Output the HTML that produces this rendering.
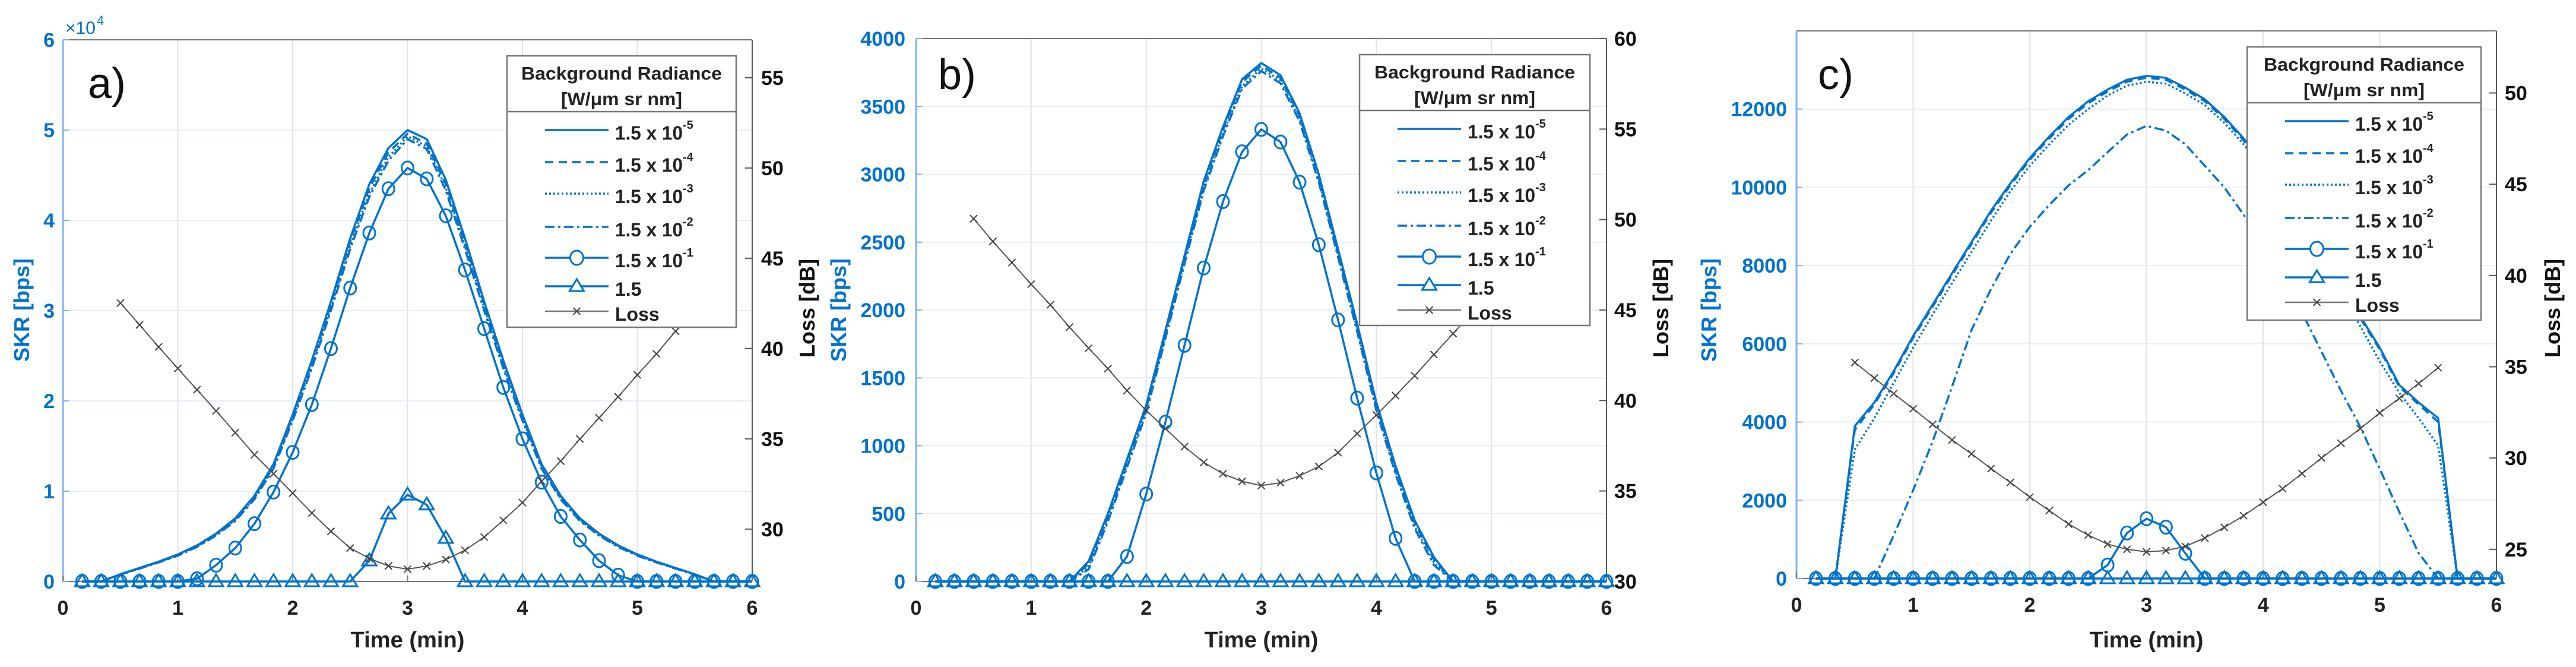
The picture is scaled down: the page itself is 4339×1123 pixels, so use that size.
<!DOCTYPE html>
<html><head><meta charset="utf-8">
<style>
html,body{margin:0;padding:0;background:#fff;}
svg{display:block;font-family:"Liberation Sans",Arial,sans-serif;}
</style></head>
<body>
<svg id="fig" width="4339" height="1123" viewBox="0 0 4339 1123" xmlns="http://www.w3.org/2000/svg"></svg>
<script>
// ---- Data ----
const times = [0.167,0.333,0.5,0.667,0.833,1,1.167,1.333,1.5,1.667,1.833,2,2.167,2.333,2.5,2.667,2.833,3,3.167,3.333,3.5,3.667,3.833,4,4.167,4.333,4.5,4.667,4.833,5,5.167,5.333,5.5,5.667,5.833,6];
const lossTimes = [0.5,0.667,0.833,1,1.167,1.333,1.5,1.667,1.833,2,2.167,2.333,2.5,2.667,2.833,3,3.167,3.333,3.5,3.667,3.833,4,4.167,4.333,4.5,4.667,4.833,5,5.167,5.333,5.5];
const legendLabels = ["1.5 x 10|-5","1.5 x 10|-4","1.5 x 10|-3","1.5 x 10|-2","1.5 x 10|-1","1.5","Loss"];

const aS5 = [0,0,800,1500,2200,3000,4000,5300,7000,9500,13000,18500,24500,31000,38000,44000,48000,50000,49000,44500,38000,31000,24500,18500,13000,9500,7000,5300,4000,3000,2200,1500,800,0,0,0];
const aS4 = [0,0,790,1480,2170,2960,3950,5230,6920,9400,12850,18300,24250,30700,37600,43550,47500,49600,48500,44000,37600,30700,24250,18300,12850,9400,6920,5230,3950,2960,2170,1480,790,0,0,0];
const aS3 = [0,0,770,1450,2130,2900,3880,5150,6800,9250,12650,18000,23900,30300,37200,43000,47000,49300,48200,43600,37200,30300,23900,18000,12650,9250,6800,5150,3880,2900,2130,1450,770,0,0,0];
const aS2 = [0,0,750,1420,2100,2850,3820,5080,6700,9100,12500,17800,23600,30000,36800,42600,46600,49000,47900,43300,36800,30000,23600,17800,12500,9100,6700,5080,3820,2850,2100,1420,750,0,0,0];
const aS1 = [0,0,0,0,0,0,300,1800,3700,6400,9900,14300,19600,25800,32500,38600,43500,45800,44600,40500,34500,28000,21500,15800,11000,7200,4600,2300,700,0,0,0,0,0,0,0];
const aS0 = [0,0,0,0,0,0,0,0,0,0,0,0,0,0,0,2300,7500,9600,8500,4800,0,0,0,0,0,0,0,0,0,0,0,0,0,0,0,0];
const aLoss = [42.52,41.31,40.09,38.90,37.72,36.55,35.34,34.12,33.07,31.99,30.89,29.88,28.95,28.38,27.96,27.78,27.96,28.31,28.83,29.56,30.49,31.47,32.65,33.77,34.99,36.16,37.33,38.54,39.71,40.96,42.0];

const bS5 = [0,0,0,0,0,0,0,0,150,500,900,1300,1850,2400,2950,3350,3700,3820,3730,3450,3000,2450,1900,1320,850,450,180,0,0,0,0,0,0,0,0,0];
const bS4 = [0,0,0,0,0,0,0,0,130,480,880,1280,1830,2380,2930,3330,3680,3800,3710,3430,2980,2430,1880,1300,830,430,160,0,0,0,0,0,0,0,0,0];
const bS3 = [0,0,0,0,0,0,0,0,110,460,860,1260,1810,2360,2900,3300,3650,3780,3690,3410,2960,2410,1860,1280,810,410,140,0,0,0,0,0,0,0,0,0];
const bS2 = [0,0,0,0,0,0,0,0,90,440,840,1240,1790,2340,2880,3280,3630,3760,3670,3390,2940,2390,1840,1260,790,390,120,0,0,0,0,0,0,0,0,0];
const bS1 = [0,0,0,0,0,0,0,0,0,0,184,644,1174,1740,2310,2799,3166,3331,3238,2942,2481,1927,1351,800,318,0,0,0,0,0,0,0,0,0,0,0];
const bS0 = [0,0,0,0,0,0,0,0,0,0,0,0,0,0,0,0,0,0,0,0,0,0,0,0,0,0,0,0,0,0,0,0,0,0,0,0];
const bLoss = [50.05,48.79,47.62,46.43,45.29,44.05,42.89,41.76,40.55,39.45,38.45,37.45,36.58,35.95,35.53,35.30,35.46,35.84,36.35,37.12,38.17,39.20,40.27,41.37,42.54,43.70,44.87,46.04,47.2,48.4,49.5];

const cS5 = [0,0,3900,4500,5300,6200,7000,7800,8600,9400,10100,10750,11300,11800,12200,12500,12750,12850,12800,12550,12250,11800,11250,10600,9900,9100,8300,7500,6700,5900,4950,4500,4100,0,0,0];
const cS4 = [0,0,3800,4450,5250,6150,6950,7750,8550,9350,10050,10700,11250,11750,12150,12450,12700,12800,12750,12500,12200,11750,11200,10550,9850,9050,8250,7450,6650,5850,4900,4450,4000,0,0,0];
const cS3 = [0,0,3300,4100,5000,5900,6750,7550,8350,9150,9900,10550,11100,11600,12000,12350,12600,12700,12650,12400,12100,11650,11100,10450,9750,8950,8150,7350,6450,5550,4750,4100,3400,0,0,0];
const cS2 = [0,0,0,0,1100,2260,3500,4900,6350,7400,8300,8990,9550,10050,10440,10900,11350,11570,11450,11100,10550,10000,9300,8500,7700,6800,5800,4800,3875,2800,1700,650,0,0,0,0];
const cS1 = [0,0,0,0,0,0,0,0,0,0,0,0,0,0,0,344,1163,1528,1313,646,0,0,0,0,0,0,0,0,0,0,0,0,0,0,0,0];
const cS0 = [0,0,0,0,0,0,0,0,0,0,0,0,0,0,0,0,0,0,0,0,0,0,0,0,0,0,0,0,0,0,0,0,0,0,0,0];
const cLoss = [35.23,34.38,33.53,32.70,31.84,30.99,30.23,29.42,28.66,27.86,27.12,26.38,25.78,25.28,25.0,24.86,24.93,25.16,25.62,26.2,26.84,27.58,28.32,29.15,30.0,30.81,31.61,32.47,33.27,34.08,34.95];

const xTicks = [0,1,2,3,4,5,6];
const aLeftTicks = [0,10000,20000,30000,40000,50000,60000];
const aLeftTickLabels = ["0","1","2","3","4","5","6"];
const aRightTicks = [30,35,40,45,50,55];
const bLeftTicks = [0,500,1000,1500,2000,2500,3000,3500,4000];
const bRightTicks = [30,35,40,45,50,55,60];
const cLeftTicks = [0,2000,4000,6000,8000,10000,12000];
const cRightTicks = [25,30,35,40,45,50];

// ---- Layout ----
const BLUE = "#0072CE";
const NS = "http://www.w3.org/2000/svg";
const svg = document.getElementById("fig");
function mk(parent, tag, attrs, text){
  const e = document.createElementNS(NS, tag);
  for (const k in attrs) e.setAttribute(k, attrs[k]);
  if (text !== undefined) e.textContent = text;
  parent.appendChild(e);
  return e;
}
const panels = [
  {id:"a", L:106, R:1267, T:67, B:979, yl:[0,60000], yr:[27.1,57.1], lt:aLeftTicks, ltl:aLeftTickLabels, rt:aRightTicks,
   s:[aS5,aS4,aS3,aS2,aS1,aS0], loss:aLoss, leg:{x:854,y:94,w:386,h:457,div:188},
   leftLabelX:92, rightLabelX:1282, skrX:37, lossX:1360, labelTxt:"a)", labelX:148, labelY:165, exp:true},
  {id:"b", L:1543, R:2706, T:65, B:979, yl:[0,4000], yr:[30,60], lt:bLeftTicks, ltl:null, rt:bRightTicks,
   s:[bS5,bS4,bS3,bS2,bS1,bS0], loss:bLoss, leg:{x:2290,y:92,w:388,h:456,div:186},
   leftLabelX:1525, rightLabelX:2719, skrX:1413, lossX:2798, labelTxt:"b)", labelX:1580, labelY:150, exp:false},
  {id:"c", L:3026, R:4205, T:52, B:974, yl:[0,14000], yr:[23.4,53.4], lt:cLeftTicks, ltl:null, rt:cRightTicks,
   s:[cS5,cS4,cS3,cS2,cS1,cS0], loss:cLoss, leg:{x:3785,y:79,w:394,h:460,div:173},
   leftLabelX:3010, rightLabelX:4219, skrX:2879, lossX:4300, labelTxt:"c)", labelX:3062, labelY:150, exp:false}
];
const dashes = [null,"14 9","3 4","16 6 4 6",null,null];

function trianglePath(x,y){ return `M${x-12},${y+8} L${x+12},${y+8} L${x},${y-12} Z`; }
function xMark(g,x,y){
  return mk(g,"path",{d:`M${x-6},${y-6}L${x+6},${y+6}M${x-6},${y+6}L${x+6},${y-6}`,stroke:"#444","stroke-width":2});
}

panels.forEach(p=>{
  const g = mk(svg,"g",{});
  
  
  const sx = v => p.L + (v-0)/6*(p.R-p.L);
  const syl = v => p.B - (v-p.yl[0])/(p.yl[1]-p.yl[0])*(p.B-p.T);
  const syr = v => p.B - (v-p.yr[0])/(p.yr[1]-p.yr[0])*(p.B-p.T);

  xTicks.forEach(t=>{
    if(t===0||t===6) return;
    const ln = mk(g,"line",{x1:sx(t),x2:sx(t),y1:p.T,y2:p.B,stroke:"#e2e2e2","stroke-width":2});
    
    
  });
  p.lt.forEach(t=>{
    const y=syl(t); if(t===p.yl[0]) return;
    const ln = mk(g,"line",{x1:p.L,x2:p.R,y1:y,y2:y,stroke:"#e6eef8","stroke-width":2});
    
    
  });
  const top = mk(g,"line",{x1:p.L,x2:p.R,y1:p.T,y2:p.T,stroke:"#777","stroke-width":2});
  
  
  const bot = mk(g,"line",{x1:p.L,x2:p.R,y1:p.B,y2:p.B,stroke:"#777","stroke-width":2});
  
  
  const la = mk(g,"line",{x1:p.L,x2:p.L,y1:p.T,y2:p.B,stroke:"#7fb2ea","stroke-width":3});
  
  
  const ra = mk(g,"line",{x1:p.R,x2:p.R,y1:p.T,y2:p.B,stroke:"#555","stroke-width":2});
  
  

  xTicks.forEach(t=>{
    const tk = mk(g,"line",{x1:sx(t),x2:sx(t),y1:p.B,y2:p.B-10,stroke:"#777","stroke-width":2});
    
    
    const tl = mk(g,"text",{x:sx(t),y:p.B+56,"text-anchor":"middle","font-size":34,"font-weight":"bold",fill:"#222"},String(t));
    
    
  });
  p.lt.forEach((t,i)=>{
    const y=syl(t);
    const tk = mk(g,"line",{x1:p.L,x2:p.L+10,y1:y,y2:y,stroke:"#7fb2ea","stroke-width":2});
    
    
    const lbl = p.ltl ? p.ltl[i] : String(t);
    const tl = mk(g,"text",{x:p.leftLabelX,y:y+12,"text-anchor":"end","font-size":34,"font-weight":"bold",fill:BLUE},lbl);
    
    
  });
  p.rt.forEach(t=>{
    const y=syr(t);
    const tk = mk(g,"line",{x1:p.R,x2:p.R-12,y1:y,y2:y,stroke:"#555","stroke-width":2});
    
    
    const tl = mk(g,"text",{x:p.rightLabelX,y:y+12,"font-size":34,"font-weight":"bold",fill:"#111"},String(t));
    
    
  });
  const xt = mk(g,"text",{x:(p.L+p.R)/2,y:1090,"text-anchor":"middle","font-size":38,"font-weight":"bold",fill:"#222",textLength:192,lengthAdjust:"spacingAndGlyphs"},"Time (min)");
  
  
  const yt = mk(g,"text",{x:0,y:0,transform:`translate(${p.skrX+12},522) rotate(-90)`,"text-anchor":"middle","font-size":36,"font-weight":"bold",fill:BLUE},"SKR [bps]");
  
  
  const rt = mk(g,"text",{x:0,y:0,transform:`translate(${p.lossX+12},519) rotate(-90)`,"text-anchor":"middle","font-size":36,"font-weight":"bold",fill:"#111"},"Loss [dB]");
  
  
  const pl = mk(g,"text",{x:p.labelX,y:p.labelY,"font-size":72,fill:"#111"},p.labelTxt);
  
  
  if(p.exp){
    const ex = mk(g,"text",{x:110,y:57,"font-size":30,fill:BLUE},"×10");
    
    
    const ex2 = mk(g,"text",{x:163,y:42,"font-size":22,fill:BLUE},"4");
    
    
  }

  p.s.forEach((arr,si)=>{
    const pts = arr.map((v,i)=>`${sx(times[i]).toFixed(1)},${syl(v).toFixed(1)}`).join(" ");
    const attrs = {points:pts,fill:"none",stroke:BLUE,"stroke-width":3.5,"stroke-linejoin":"round"};
    if(dashes[si]) attrs["stroke-dasharray"]=dashes[si];
    const pl2 = mk(g,"polyline",attrs);
    
    
  });
  p.s[4].forEach((v,i)=>{
    const c = mk(g,"ellipse",{cx:sx(times[i]),cy:syl(v),rx:10,ry:11,fill:"none",stroke:BLUE,"stroke-width":3});
    
    
  });
  p.s[5].forEach((v,i)=>{
    const t = mk(g,"path",{d:trianglePath(sx(times[i]),syl(v)),fill:"none",stroke:BLUE,"stroke-width":3});
    
    
  });
  const lp = p.loss.map((v,i)=>`${sx(lossTimes[i]).toFixed(1)},${syr(v).toFixed(1)}`).join(" ");
  const lossLine = mk(g,"polyline",{points:lp,fill:"none",stroke:"#555","stroke-width":2});
  
  
  p.loss.forEach((v,i)=>{
    const m = xMark(g,sx(lossTimes[i]),syr(v));
    
    
  });

  const L = p.leg;
  const lg = mk(g,"g",{});
  
  
  const box = mk(lg,"rect",{x:L.x,y:L.y,width:L.w,height:L.h,fill:"#fff",stroke:"#777","stroke-width":2.5});
  
  
  const dv = mk(lg,"line",{x1:L.x,x2:L.x+L.w,y1:L.div,y2:L.div,stroke:"#777","stroke-width":2.5});
  
  
  const h1 = mk(lg,"text",{x:L.x+L.w/2,y:L.y+40,"text-anchor":"middle","font-size":31,"font-weight":"bold",fill:"#222",textLength:338,lengthAdjust:"spacingAndGlyphs"},"Background Radiance");
  
  
  const h2 = mk(lg,"text",{x:L.x+L.w/2,y:L.y+83,"text-anchor":"middle","font-size":31,"font-weight":"bold",fill:"#222",textLength:204,lengthAdjust:"spacingAndGlyphs"},"[W/μm sr nm]");
  
  
  const rowOff = [125,179,232,288,340,388,430];
  legendLabels.forEach((lab,ri)=>{
    const y = L.y + rowOff[ri];
    const x1 = L.x+64, x2 = L.x+171, xm=(x1+x2)/2;
    const ent = mk(lg,"g",{});
    
    
    if(ri<6){
      const a = {x1:x1,x2:x2,y1:y,y2:y,stroke:BLUE,"stroke-width":3.5};
      if(dashes[ri]) a["stroke-dasharray"]=dashes[ri];
      mk(ent,"line",a);
      if(ri===4) mk(ent,"ellipse",{cx:xm,cy:y,rx:11,ry:12,fill:"#fff",stroke:BLUE,"stroke-width":3});
      if(ri===5) mk(ent,"path",{d:trianglePath(xm,y),fill:"#fff",stroke:BLUE,"stroke-width":3});
    } else {
      mk(ent,"line",{x1:x1,x2:x2,y1:y,y2:y,stroke:"#777","stroke-width":2.5});
      xMark(ent,xm,y);
    }
    const parts = lab.split("|");
    const tx = mk(ent,"text",{x:L.x+182,y:y+16,"font-size":32,"font-weight":"bold",fill:"#222"},parts[0]);
    if(parts.length>1){
      tx.setAttribute("textLength",114);
      tx.setAttribute("lengthAdjust","spacingAndGlyphs");
      mk(ent,"text",{x:L.x+296,y:y-2,"font-size":20,"font-weight":"bold",fill:"#222"},parts[1]);
    }
  });
});
</script>
</body></html>
